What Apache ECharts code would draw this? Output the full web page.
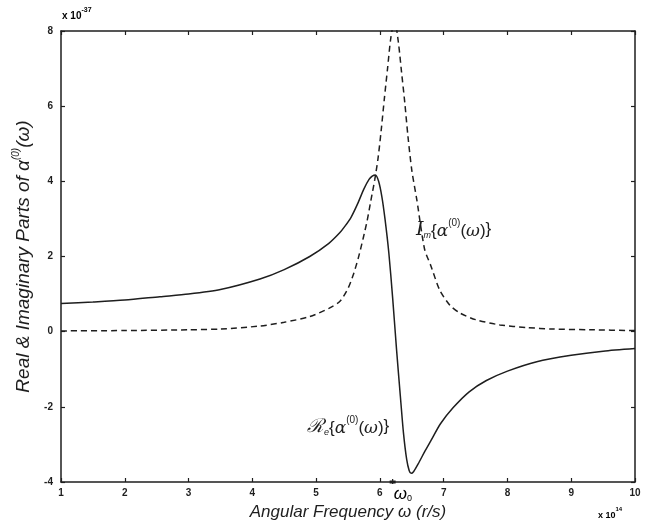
<!DOCTYPE html>
<html>
<head>
<meta charset="utf-8">
<script src="https://cdn.jsdelivr.net/npm/echarts@6/dist/echarts.min.js"></script>
<style>html,body{margin:0;padding:0;background:#fff}#c{width:651px;height:527px}</style>
</head>
<body>
<div id="c"></div>
<script>
// angular frequency (x 10^14 r/s) and real part (x 10^-37)
const realW = [1.0,1.5,2.0,2.55,3.0,3.5,4.12,4.5,4.9,5.2,5.37,5.45,5.55,5.65,5.75,5.83,5.88,5.93,5.98,6.03,6.08,6.14,6.2,6.26,6.32,6.37,6.42,6.46,6.49,6.53,6.6,6.7,6.8,6.95,7.15,7.4,7.67,8.0,8.46,9.0,9.5,10.0];
const realV = [0.75,0.79,0.84,0.93,1.0,1.12,1.40,1.65,2.0,2.35,2.63,2.8,3.05,3.4,3.8,4.05,4.14,4.17,4.0,3.6,3.0,2.1,0.9,-0.45,-1.7,-2.7,-3.4,-3.7,-3.77,-3.72,-3.52,-3.2,-2.9,-2.45,-2.02,-1.6,-1.3,-1.05,-0.8,-0.63,-0.52,-0.45];
// imaginary part
const imagW = [1.0,2.0,3.0,3.5,4.12,4.5,4.9,5.2,5.37,5.5,5.58,5.66,5.74,5.8,5.86,5.92,5.97,6.02,6.07,6.12,6.17,6.23,6.29,6.34,6.39,6.44,6.5,6.58,6.7,6.8,6.94,7.1,7.25,7.5,7.88,8.3,8.71,9.3,10.0];
const imagV = [0.02,0.03,0.05,0.07,0.15,0.25,0.4,0.62,0.8,1.15,1.5,1.95,2.5,2.95,3.5,4.05,4.6,5.35,6.2,7.0,7.8,8.3,7.7,6.9,6.1,5.2,4.3,3.5,2.2,1.75,1.1,0.7,0.5,0.32,0.18,0.11,0.07,0.05,0.03];
const xTicks = [1,2,3,4,5,6,7,8,9,10];
const yTicks = [-4,-2,0,2,4,6,8];
const omega0 = 6.2;

const zip = (a,b) => a.map((v,i)=>[v,b[i]]);
const chart = echarts.init(document.getElementById('c'));
const ink = '#1e1e1e';
const sans = 'Liberation Sans, Arial, sans-serif';
const serif = 'DejaVu Serif, Liberation Serif, serif';
const lab = {color: ink, fontFamily: sans, fontSize: 10, fontWeight: 'bold'};
const axisCommon = {
  axisLine: {show: true, onZero: false, lineStyle: {color: ink, width: 1.5}},
  axisTick: {show: true, inside: true, length: 4, lineStyle: {color: ink, width: 1.2}},
  splitLine: {show: false}
};
chart.setOption({
  animation: false,
  backgroundColor: '#fff',
  grid: {left: 61, right: 16, top: 31, bottom: 45, containLabel: false},
  xAxis: [
    Object.assign({type: 'value', min: 1, max: 10, interval: 1, position: 'bottom',
      axisLabel: Object.assign({margin: 6, formatter: v => xTicks.includes(v) ? String(v) : ''}, lab),
      name: 'Angular Frequency ω (r/s)', nameLocation: 'middle', nameGap: 22,
      nameTextStyle: {color: ink, fontFamily: sans, fontSize: 17, fontStyle: 'italic'}
    }, axisCommon),
    Object.assign({type: 'value', min: 1, max: 10, interval: 1, position: 'top', axisLabel: {show: false}}, axisCommon)
  ],
  yAxis: [
    Object.assign({type: 'value', min: -4, max: 8, interval: 2, position: 'left',
      axisLabel: Object.assign({margin: 8, formatter: v => yTicks.includes(v) ? String(v) : ''}, lab),
      name: '{t|Real & Imaginary Parts of α}{s|(0)}{t|(ω)}', nameLocation: 'middle', nameGap: 21, nameRotate: 90,
      nameTextStyle: {color: ink, fontFamily: sans, fontSize: 19, fontStyle: 'italic',
        rich: {t: {fontSize: 19, fontStyle: 'italic', color: ink, fontFamily: sans, verticalAlign: 'bottom', lineHeight: 22},
               s: {fontSize: 10, fontStyle: 'italic', color: ink, fontFamily: sans, verticalAlign: 'top', lineHeight: 22}}}
    }, axisCommon),
    Object.assign({type: 'value', min: -4, max: 8, interval: 2, position: 'right', axisLabel: {show: false}}, axisCommon)
  ],
  series: [
    {type: 'line', data: zip(realW, realV), showSymbol: false, smooth: 0.25, clip: true,
     lineStyle: {color: ink, width: 1.5}},
    {type: 'line', data: zip(imagW, imagV), showSymbol: false, smooth: 0.25, clip: true,
     lineStyle: {color: ink, width: 1.5, type: [6, 4]}}
  ]
});

const p0 = chart.convertToPixel({xAxisIndex: 0, yAxisIndex: 0}, [omega0, -4]);
const richBase = {
  b: {fontSize: 19, fontStyle: 'italic', fontFamily: serif, color: ink, verticalAlign: 'bottom', lineHeight: 22},
  sub: {fontSize: 9, fontStyle: 'italic', fontFamily: sans, color: ink, verticalAlign: 'bottom', lineHeight: 17},
  t: {fontSize: 17, fontFamily: sans, color: ink, verticalAlign: 'bottom', lineHeight: 22},
  g: {fontSize: 17, fontStyle: 'italic', fontFamily: serif, color: ink, verticalAlign: 'bottom', lineHeight: 22},
  sup: {fontSize: 10, fontFamily: sans, color: ink, verticalAlign: 'top', lineHeight: 22}
};
const annoStyle = (txt) => ({text: txt, rich: richBase, fontSize: 17, fontFamily: sans, fill: ink, lineHeight: 22, verticalAlign: 'bottom'});
chart.setOption({
  graphic: [
    {type: 'text', left: 62, top: 7, style: {text: '{a|x 10}{s|-37}', rich: {
      a: {fontSize: 10, fontWeight: 'bold', fontFamily: sans, color: ink, verticalAlign: 'bottom', lineHeight: 14},
      s: {fontSize: 7, fontWeight: 'bold', fontFamily: sans, color: ink, verticalAlign: 'top', lineHeight: 14}}}},
    {type: 'text', left: 598, top: 506, style: {text: '{a|x 10}{s|14}', rich: {
      a: {fontSize: 9, fontWeight: 'bold', fontFamily: sans, color: ink, verticalAlign: 'bottom', lineHeight: 14},
      s: {fontSize: 6, fontWeight: 'bold', fontFamily: sans, color: ink, verticalAlign: 'top', lineHeight: 14}}}},
    {type: 'text', x: p0[0] + 1, y: p0[1] + 2, style: {text: '{w|ω}{z|0}', rich: {
      w: {fontSize: 17, fontStyle: 'italic', fontFamily: sans, color: ink, verticalAlign: 'bottom', lineHeight: 19},
      z: {fontSize: 9, fontFamily: sans, color: ink, verticalAlign: 'bottom', lineHeight: 14}}}},
    {type: 'line', shape: {x1: p0[0] - 3, y1: p0[1], x2: p0[0] + 3, y2: p0[1]}, style: {stroke: ink, lineWidth: 3}},
    {type: 'line', shape: {x1: p0[0], y1: p0[1] - 3, x2: p0[0], y2: p0[1] + 2}, style: {stroke: ink, lineWidth: 1.2}},
    {type: 'text', left: 416, top: 218, style: annoStyle('{b|I}{sub|m}{t|{}{g|α}{sup|(0)}{t|(}{g|ω}{t|)}}')},
    {type: 'text', left: 307, top: 415, style: annoStyle('{b|ℛ}{sub|e}{t|{}{g|α}{sup|(0)}{t|(}{g|ω}{t|)}}')}
  ]
});
</script>
</body>
</html>
